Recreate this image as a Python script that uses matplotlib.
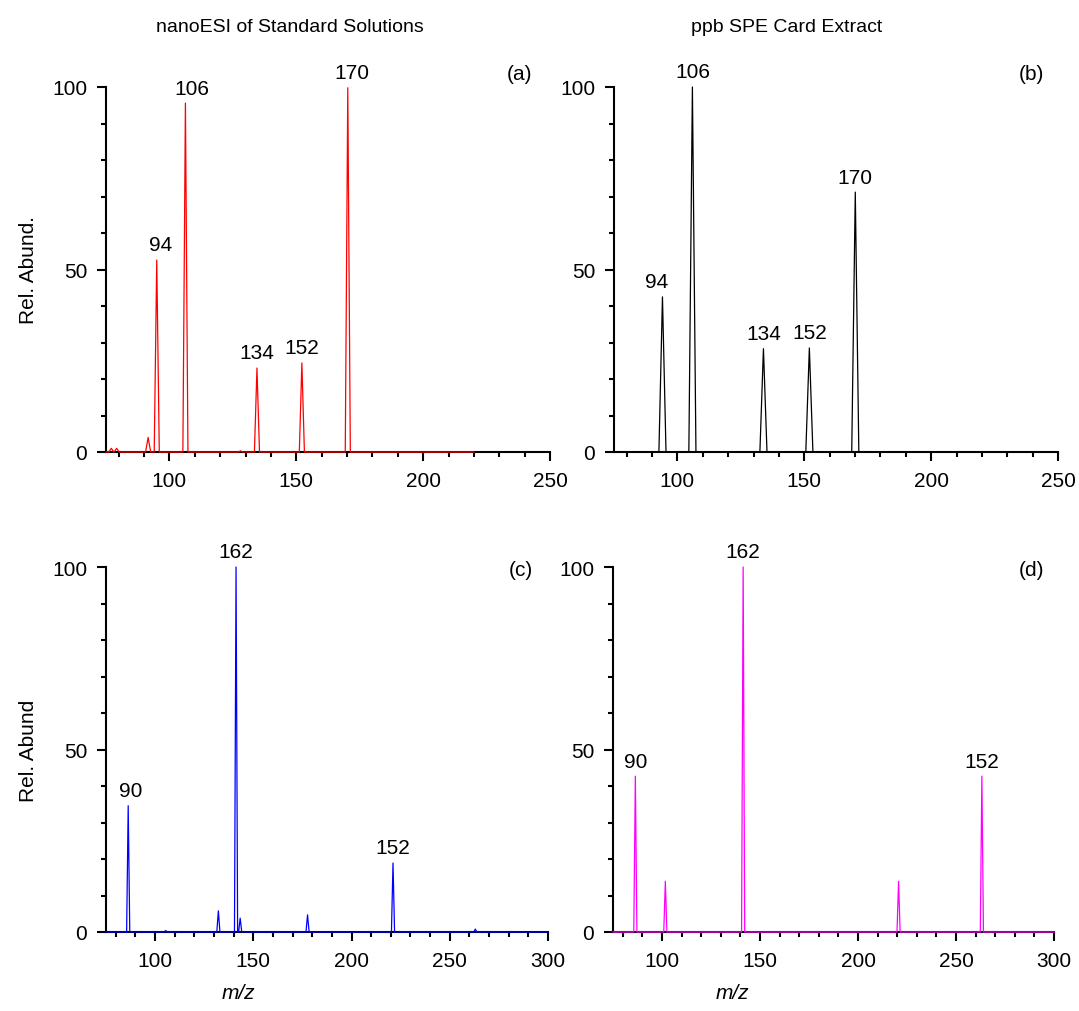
import numpy as np
import matplotlib
matplotlib.use("Agg")
import matplotlib.pyplot as plt
from matplotlib.ticker import MultipleLocator

plt.rcParams['font.family'] = ['Liberation Sans', 'DejaVu Sans']

# ---- data (peak m/z positions and relative abundances) ----
a_mz = [77.1, 79.2, 91.6, 95.0, 106.3, 128.0, 134.5, 152.2, 170.3]
a_int = [1.0, 1.0, 4.0, 52.6, 95.6, 0.3, 23.0, 24.4, 99.8]
a_range = [75, 220]
a_labels = [("94", 95.0, 52.6), ("106", 106.3, 95.6), ("134", 134.5, 23.0),
            ("152", 152.2, 24.4), ("170", 170.3, 99.8)]

b_mz = [94.1, 105.9, 133.9, 152.0, 170.1]
b_int = [42.5, 100.0, 28.3, 28.5, 71.2]
b_range = [75, 250]
b_labels = [("94", 94.1, 42.5), ("106", 105.9, 100.0), ("134", 133.9, 28.3),
            ("152", 152.0, 28.5), ("170", 170.1, 71.2)]

c_mz = [86.3, 105.4, 132.2, 141.2, 143.3, 177.6, 221.1, 263.0]
c_int = [34.6, 0.4, 5.8, 100.0, 3.8, 4.7, 18.9, 0.8]
c_range = [75, 300]
c_labels = [("90", 86.3, 34.6), ("162", 141.2, 100.0), ("152", 221.1, 18.9)]

d_mz = [86.4, 101.7, 141.4, 220.7, 263.2]
d_int = [42.7, 13.9, 100.0, 13.9, 42.7]
d_range = [75, 300]
d_labels = [("90", 86.4, 42.7), ("162", 141.4, 100.0), ("152", 263.2, 42.7)]

titles = ["nanoESI of Standard Solutions", "ppb SPE Card Extract"]
ylabels = ["Rel. Abund.", "", "Rel. Abund", ""]
panel_tags = ["(a)", "(b)", "(c)", "(d)"]


def profile(mz, inten, rng, hw):
    xs = [rng[0]]
    ys = [0.0]
    for m, h in sorted(zip(mz, inten)):
        xs += [m - hw, m, m + hw]
        ys += [0.0, h, 0.0]
    xs.append(rng[1])
    ys.append(0.0)
    return np.array(xs), np.array(ys)


W, H = 1079, 1012
fig = plt.figure(figsize=(W / 100, H / 100), dpi=100)

def ax_at(l, r, t, b):
    return fig.add_axes([l / W, 1 - b / H, (r - l) / W, (b - t) / H])

axa = ax_at(106, 550, 88, 453)
axb = ax_at(614, 1058, 88, 453)
axc = ax_at(106, 548, 568, 933)
axd = ax_at(613, 1054, 568, 933)

FS = 15

panels = [
    (axa, a_mz, a_int, a_range, a_labels, '#ff0000', 1.0, (75, 250)),
    (axb, b_mz, b_int, b_range, b_labels, '#000000', 1.4, (75, 250)),
    (axc, c_mz, c_int, c_range, c_labels, '#0000ff', 0.8, (75, 300)),
    (axd, d_mz, d_int, d_range, d_labels, '#ff00ff', 0.8, (75, 300)),
]
label_dx = [[3, 5, 0, 0, 3], [-4, 0, 0, 0, 0], [2, 0, 0], [0, 0, 0]]

for i, (ax, mz, inten, rng, labels, col, hw, xl) in enumerate(panels):
    x, y = profile(mz, inten, rng, hw)
    ax.plot(x, y, color=col, lw=0.9, clip_on=False, zorder=3)
    ax.set_xlim(*xl)
    ax.set_ylim(0, 100)
    for s in ['top', 'right']:
        ax.spines[s].set_visible(False)
    for s in ['left', 'bottom']:
        ax.spines[s].set_linewidth(1.5)
    ax.xaxis.set_major_locator(MultipleLocator(50))
    ax.xaxis.set_minor_locator(MultipleLocator(10))
    ax.yaxis.set_major_locator(MultipleLocator(50))
    ax.yaxis.set_minor_locator(MultipleLocator(10))
    ax.tick_params(which='major', direction='out', length=6.5, width=1.5,
                   labelsize=FS, pad=7)
    ax.tick_params(which='minor', direction='out', length=3.8, width=1.5)
    for j, (txt, lx, ly) in enumerate(labels):
        ax.annotate(txt, (lx, ly), xytext=(label_dx[i][j], 4),
                    textcoords='offset points', ha='center', va='bottom',
                    fontsize=FS, annotation_clip=False)
    if ylabels[i]:
        ax.set_ylabel(ylabels[i], fontsize=FS, labelpad=10)
    if i >= 2:
        ax.set_xlabel("m/z", fontsize=FS, style='italic')

axc.xaxis.set_label_coords(0.30, -0.14)
axd.xaxis.set_label_coords(0.27, -0.14)

# panel tags
fig.text(520 / W, 1 - 75 / H, "(a)", fontsize=FS, ha='center', va='center')
fig.text(1031 / W, 1 - 75 / H, "(b)", fontsize=FS, ha='center', va='center')
fig.text(521 / W, 1 - 571 / H, "(c)", fontsize=FS, ha='center', va='center')
fig.text(1031 / W, 1 - 571 / H, "(d)", fontsize=FS, ha='center', va='center')

# column titles
fig.text(290 / W, 1 - 28 / H, titles[0], fontsize=14, ha='center', va='center')
fig.text(787 / W, 1 - 28 / H, titles[1], fontsize=14, ha='center', va='center')

fig.savefig("out.png", dpi=100)
